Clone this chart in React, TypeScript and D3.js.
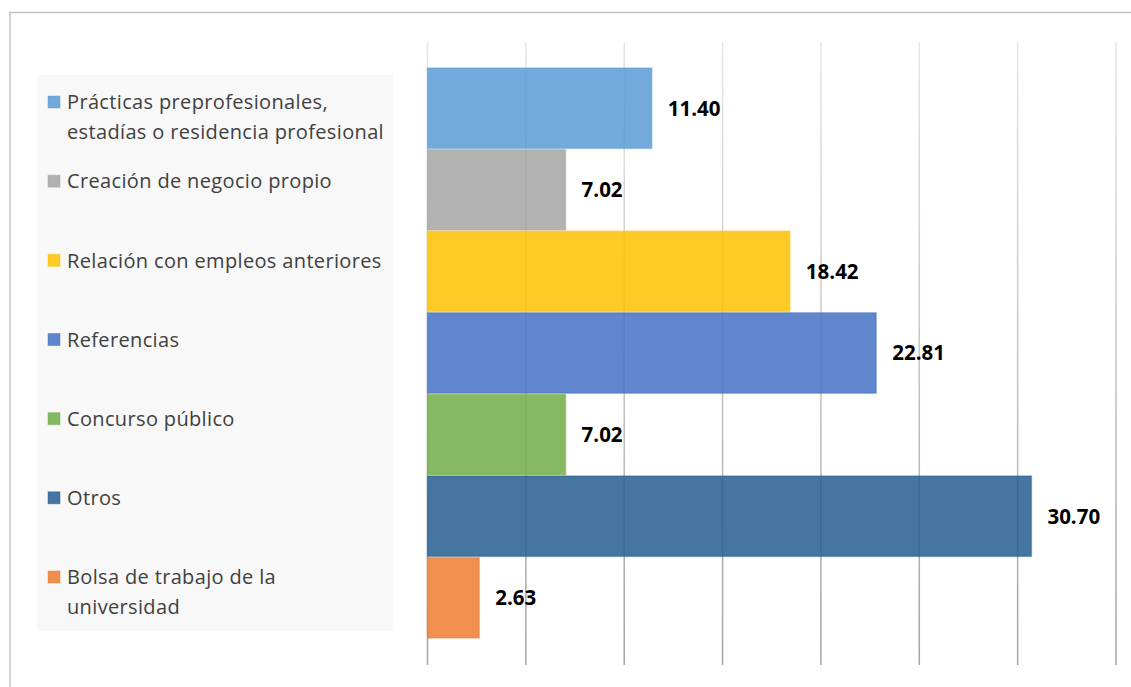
import * as d3 from "d3";
import React, { useEffect, useRef } from "react";

// categories, top to bottom
const categories: string[] = [
  "Prácticas preprofesionales, estadías o residencia profesional",
  "Creación de negocio propio",
  "Relación con empleos anteriores",
  "Referencias",
  "Concurso público",
  "Otros",
  "Bolsa de trabajo de la universidad",
];

// legend text broken in lines like the original
const legendLines: string[][] = [
  ["Prácticas preprofesionales,", "estadías o residencia profesional"],
  ["Creación de negocio propio"],
  ["Relación con empleos anteriores"],
  ["Referencias"],
  ["Concurso público"],
  ["Otros"],
  ["Bolsa de trabajo de la", "universidad"],
];

const values: number[] = [11.4, 7.02, 18.42, 22.81, 7.02, 30.7, 2.63];

const colors: string[] = ["#5B9BD5", "#A5A5A5", "#FFC000", "#4472C4", "#70AD47", "#255E91", "#ED7D31"];

const xTicks: number[] = [0, 5, 10, 15, 20, 25, 30, 35];

const W = 1131;
const H = 687;
const FONT = "'Open Sans', 'Noto Sans', sans-serif";

export default function App() {
  const ref = useRef<SVGSVGElement | null>(null);

  useEffect(() => {
    if (!ref.current) return;
    const svg = d3.select(ref.current);
    svg.selectAll("*").remove();

    const plot = { left: 427.5, right: 1116, top: 42, bottom: 665 };

    const x = d3.scaleLinear().domain([0, 35]).range([plot.left, plot.right]);
    const y = d3.scaleBand<string>().domain(categories).range([68, 638]).paddingInner(0.015);

    // chart frame (only top and left edges visible)
    svg.append("path")
      .attr("d", `M10,${H} L10,12.5 L${W},12.5`)
      .attr("fill", "none")
      .attr("stroke", "#c4c4c4")
      .attr("stroke-width", 1.5);

    // gradient for gridlines: fades out toward the top
    const defs = svg.append("defs");
    const grad = defs.append("linearGradient")
      .attr("id", "gridGrad")
      .attr("gradientUnits", "userSpaceOnUse")
      .attr("x1", 0).attr("x2", 0)
      .attr("y1", plot.top).attr("y2", plot.bottom);
    grad.append("stop").attr("offset", "0%").attr("stop-color", "#e6e6e6");
    grad.append("stop").attr("offset", "100%").attr("stop-color", "#a3a3a3");

    svg.append("g")
      .selectAll("rect")
      .data(xTicks)
      .join("rect")
      .attr("x", d => x(d) - 0.75)
      .attr("y", plot.top)
      .attr("width", 1.5)
      .attr("height", plot.bottom - plot.top)
      .attr("fill", "url(#gridGrad)");

    // bars
    svg.append("g")
      .selectAll("rect")
      .data(values)
      .join("rect")
      .attr("x", x(0))
      .attr("y", (_, i) => y(categories[i])!)
      .attr("width", d => x(d) - x(0))
      .attr("height", y.bandwidth())
      .attr("fill", (_, i) => colors[i])
      .attr("fill-opacity", 0.85)
      .attr("stroke", (_, i) => colors[i])
      .attr("stroke-opacity", 0.45)
      .attr("stroke-width", 1.5);

    // value labels
    svg.append("g")
      .selectAll("text")
      .data(values)
      .join("text")
      .attr("x", d => x(d) + 16)
      .attr("y", (_, i) => y(categories[i])! + y.bandwidth() / 2)
      .attr("dy", "0.36em")
      .attr("font-family", FONT)
      .attr("font-size", 20.5)
      .attr("font-weight", 700)
      .attr("fill", "#000")
      .text(d => d.toFixed(2));

    // legend
    const legendBox = { x: 37, y: 75, w: 356, h: 556 };
    svg.append("rect")
      .attr("x", legendBox.x)
      .attr("y", legendBox.y)
      .attr("width", legendBox.w)
      .attr("height", legendBox.h)
      .attr("fill", "#f8f8f8");

    const ly = d3.scalePoint<string>().domain(categories).range([102, 577]);
    const lineH = 30;

    const items = svg.append("g")
      .selectAll("g")
      .data(categories)
      .join("g")
      .attr("transform", d => `translate(0,${ly(d)})`);

    items.append("rect")
      .attr("x", 48)
      .attr("y", -6)
      .attr("width", 12)
      .attr("height", 12)
      .attr("fill", (_, i) => colors[i])
      .attr("fill-opacity", 0.85)
      .attr("stroke", (_, i) => colors[i])
      .attr("stroke-opacity", 0.45);

    items.each(function (_, i) {
      const g = d3.select(this);
      legendLines[i].forEach((line, j) => {
        g.append("text")
          .attr("x", 67)
          .attr("y", j * lineH)
          .attr("dy", "0.36em")
          .attr("font-family", FONT)
          .attr("font-size", 20)
          .attr("letter-spacing", 0.35)
          .attr("fill", "#404040")
          .text(line);
      });
    });
  }, []);

  return (
    <svg
      ref={ref}
      width={W}
      height={H}
      style={{ position: "absolute", left: 0, top: 0, background: "#fff" }}
    />
  );
}
